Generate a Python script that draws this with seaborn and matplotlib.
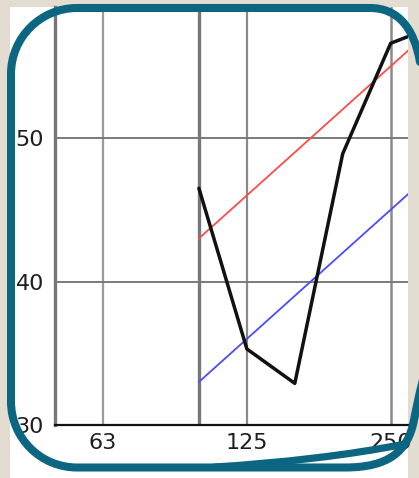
import matplotlib
matplotlib.use("Agg")
import matplotlib.pyplot as plt
from matplotlib.path import Path
from matplotlib.patches import PathPatch, Rectangle
import seaborn as sns
import pandas as pd

# ---- data ----
band_freqs = [100.0, 125.9, 158.5, 199.5, 251.2, 316.2]
measured = [46.5, 35.3, 32.9, 48.9, 56.6, 57.9]
reference_red = [43, 46, 49, 52, 55, 58]
reference_blue = [33, 36, 39, 42, 45, 48]

tick_freqs = [50.1, 63.1, 79.4, 100.0, 125.9, 158.5, 199.5, 251.2]
tick_labels = ["", "63", "", "", "125", "", "", "250"]
y_ticks = [30, 40, 50]
grid_freqs = [63.1, 100.0, 125.9, 251.2]
grid_levels = [40, 50]

sns.set_style("white")
plt.rcParams['font.family'] = ['DejaVu Sans']

W, H = 419, 478
fig = plt.figure(figsize=(W / 100, H / 100), dpi=100)
fig.patch.set_facecolor('#e2ddd0')
fig.patches.append(Rectangle((10 / W, 0), (408 - 10) / W, (H - 7) / H,
                             transform=fig.transFigure, facecolor='white',
                             edgecolor='none', zorder=-5))

ax = fig.add_axes([55 / W, 1 - 425 / H, (408 - 55) / W, (425 - 7) / H])
ax.set_facecolor('white')

df = pd.DataFrame({"freq": band_freqs, "measured": measured,
                   "red": reference_red, "blue": reference_blue})

# grid lines
grid_styles = [('#9a9a9a', 1.6), ('#777777', 2.4), ('#8a8a8a', 1.6), ('#8a8a8a', 1.8)]
for f, (c, lw) in zip(grid_freqs, grid_styles):
    ax.axvline(f, color=c, lw=lw, zorder=1)
for lv in grid_levels:
    ax.axhline(lv, color='#7a7a7a', lw=1.4, zorder=1)

sns.lineplot(data=df, x="freq", y="red", ax=ax, color='#ff4a4a', lw=1.3, zorder=3)
sns.lineplot(data=df, x="freq", y="blue", ax=ax, color='#4a4aff', lw=1.3, zorder=3)
sns.lineplot(data=df, x="freq", y="measured", ax=ax, color='#111111', lw=2.5, zorder=4)

ax.set_xscale('log')
ax.set_xlim(50.1, 273)
ax.set_ylim(30, 59.13)
ax.set_xticks(tick_freqs)
ax.set_xticklabels(tick_labels)
ax.xaxis.set_minor_locator(matplotlib.ticker.NullLocator())
ax.set_yticks(y_ticks)
ax.set_yticklabels([str(v) for v in y_ticks])
ax.set_xlabel("")
ax.set_ylabel("")

ax.tick_params(axis='x', direction='in', length=10, width=1.7, color='#222222',
               pad=5.5, labelsize=16, labelcolor='#1e1e1e')
ax.tick_params(axis='y', length=0, pad=8.0, labelsize=16, labelcolor='#1e1e1e')

for s in ['top', 'right']:
    ax.spines[s].set_visible(False)
ax.spines['left'].set_color('#777777')
ax.spines['left'].set_linewidth(2.4)
ax.spines['bottom'].set_color('#111111')
ax.spines['bottom'].set_linewidth(1.6)

# ---- decorative teal frame (overlay) ----
ov = fig.add_axes([0, 0, 1, 1], zorder=10)
ov.set_xlim(0, W)
ov.set_ylim(H, 0)
ov.axis('off')
ov.patch.set_alpha(0)

teal = '#0c6682'
k = 0.552
r = 66
yb = 467.5
verts = [
    (440, 320),
    (424, 370), (418, 400), (414, 420),
    (408, 452), (388, yb), (345, yb),
    (11 + r, yb),
    (11 + r - r * k, yb), (11, yb - r + r * k), (11, yb - r),
    (11, 8 + r),
    (11, 8 + r - r * k), (11 + r - r * k, 8), (11 + r, 8),
    (370, 8),
    (398, 8), (414, 28), (420, 62),
    (445, 110),
]
codes = [Path.MOVETO,
         Path.CURVE4, Path.CURVE4, Path.CURVE4,
         Path.CURVE4, Path.CURVE4, Path.CURVE4,
         Path.LINETO,
         Path.CURVE4, Path.CURVE4, Path.CURVE4,
         Path.LINETO,
         Path.CURVE4, Path.CURVE4, Path.CURVE4,
         Path.LINETO,
         Path.CURVE4, Path.CURVE4, Path.CURVE4,
         Path.LINETO]
ov.add_patch(PathPatch(Path(verts, codes), facecolor='none', edgecolor=teal,
                       lw=5.8, capstyle='round', joinstyle='round'))
verts_b = [(215, 467), (280, 463), (350, 455), (405, 444)]
codes_b = [Path.MOVETO, Path.CURVE4, Path.CURVE4, Path.CURVE4]
ov.add_patch(PathPatch(Path(verts_b, codes_b), facecolor='none', edgecolor=teal,
                       lw=5.2, capstyle='round'))

fig.savefig("out.png", dpi=100)
